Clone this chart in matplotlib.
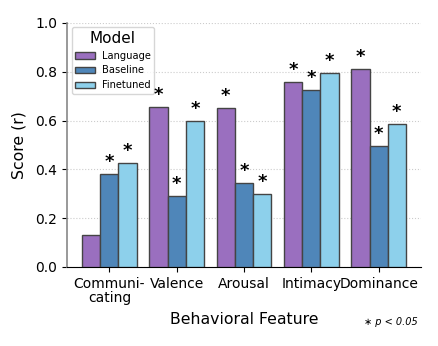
import numpy as np
import matplotlib.pyplot as plt

features = ["Communi-\ncating", "Valence", "Arousal", "Intimacy", "Dominance"]
models = ["Language", "Baseline", "Finetuned"]
language = [0.13, 0.655, 0.652, 0.76, 0.81]
baseline = [0.38, 0.29, 0.345, 0.725, 0.495]
finetuned = [0.425, 0.60, 0.30, 0.795, 0.585]
# significance flags (p < 0.05)
sig_language = [False, True, True, True, True]
sig_baseline = [True, True, True, True, True]
sig_finetuned = [True, True, True, True, True]

colors = ["#9a6fbf", "#4f86b9", "#8dd0eb"]

fig = plt.figure(figsize=(4.39, 3.46), dpi=100)
ax = fig.add_axes([67/439, 1-267/346, (421-67)/439, (267-23)/346])

x = np.arange(len(features))
w = 0.27
series = [language, baseline, finetuned]
sigs = [sig_language, sig_baseline, sig_finetuned]
for i, (vals, sig) in enumerate(zip(series, sigs)):
    pos = x + (i-1)*w
    ax.bar(pos, vals, width=w, color=colors[i], edgecolor="#444444",
           linewidth=1.0, label=models[i], zorder=3)
    for p, v, s in zip(pos, vals, sig):
        if s:
            ax.text(p, v+0.012, "*", ha="center", va="bottom", fontsize=13,
                    fontweight="bold", zorder=6)

ax.set_xlim(-0.63, 4.63)
ax.set_ylim(0, 1.0)
ax.set_yticks([0.0, 0.2, 0.4, 0.6, 0.8, 1.0])
ax.set_xticks(x)
ax.set_xticklabels(features, fontsize=10, linespacing=1.0)
ax.tick_params(axis="y", labelsize=10)
ax.yaxis.grid(True, linestyle=":", color="#cccccc", linewidth=0.8, zorder=0)
ax.set_axisbelow(True)
for s in ["top", "right"]:
    ax.spines[s].set_visible(False)
ax.spines["left"].set_color("#888888")
ax.spines["left"].set_linewidth(1.2)

ax.set_xlabel("Behavioral Feature", fontsize=11.3, labelpad=5)
ax.set_ylabel("Score (r)", fontsize=11.3, labelpad=6)

leg = ax.legend(title="Model", fontsize=7.1, title_fontsize=11,
                loc="upper left", bbox_to_anchor=(0.005, 0.995),
                handlelength=2.0, handletextpad=0.7, borderaxespad=0.3,
                borderpad=0.35)
leg.set_zorder(5)

fig.text(0.952, 0.06, "∗ p < 0.05", ha="right", fontsize=7, style="italic")

fig.savefig("out.png", dpi=100)
